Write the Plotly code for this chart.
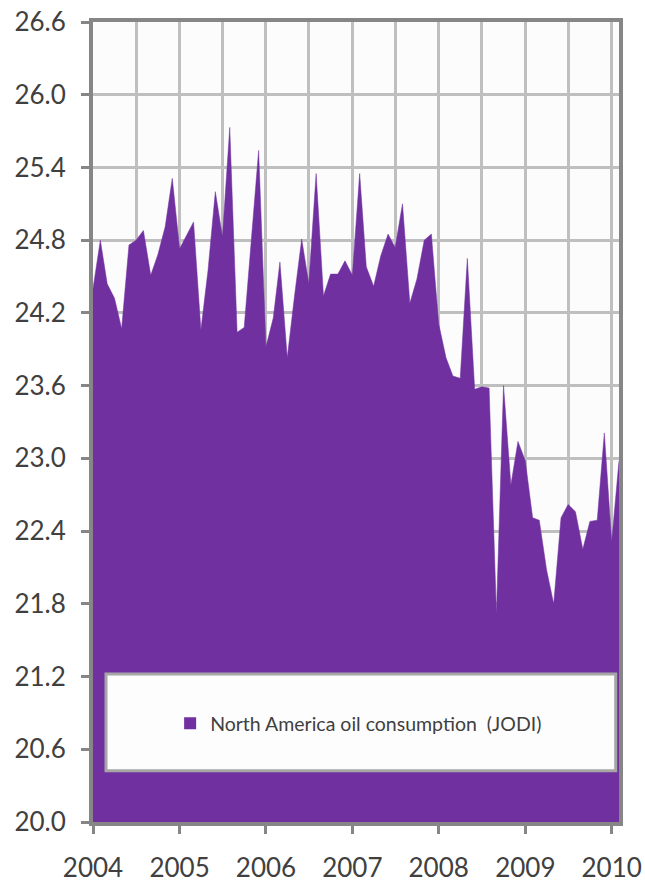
import plotly.graph_objects as go
import pandas as pd

# Monthly North America oil consumption (JODI), mb/d, Jan 2004 - Feb 2010
months = pd.date_range("2004-01-01", "2010-02-01", freq="MS")
consumption = [
    # 2004
    24.40, 24.80, 24.44, 24.32, 24.07, 24.76, 24.80, 24.88, 24.51, 24.68, 24.91, 25.31,
    # 2005
    24.73, 24.84, 24.95, 24.06, 24.55, 25.20, 24.83, 25.73, 24.04, 24.08, 24.80, 25.54,
    # 2006
    23.92, 24.16, 24.62, 23.83, 24.33, 24.81, 24.44, 25.35, 24.34, 24.52, 24.52, 24.63,
    # 2007
    24.51, 25.35, 24.58, 24.42, 24.67, 24.85, 24.74, 25.10, 24.28, 24.48, 24.80, 24.85,
    # 2008
    24.11, 23.83, 23.68, 23.66, 24.65, 23.57, 23.59, 23.58, 21.72, 23.60, 22.78, 23.14,
    # 2009
    22.98, 22.51, 22.49, 22.08, 21.80, 22.51, 22.62, 22.56, 22.25, 22.48, 22.49, 23.21,
    # 2010
    22.31, 22.98,
]
year_ticks = ["2004-01-01", "2005-01-01", "2006-01-01", "2007-01-01",
              "2008-01-01", "2009-01-01", "2010-01-01"]
year_labels = ["2004", "2005", "2006", "2007", "2008", "2009", "2010"]
series_name = "North America oil consumption  (JODI)"

PURPLE = "#7030A0"
TEXT = "#404040"
GRID = "#BFBFBF"
AXIS = "#868686"
FONT = "Lato, Carlito, Open Sans, sans-serif"

fig = go.Figure()
fig.add_trace(go.Scatter(
    x=months, y=consumption, mode="lines", fill="tozeroy",
    fillcolor=PURPLE, line=dict(color=PURPLE, width=0.5),
    showlegend=False, hoverinfo="x+y",
))
# legend entry (square swatch)
fig.add_trace(go.Scatter(
    x=[None], y=[None], mode="markers", name=series_name,
    marker=dict(symbol="square", size=12, color=PURPLE),
))

fig.update_layout(
    width=645, height=882,
    margin=dict(l=93, r=26, t=22, b=60, autoexpand=False),
    paper_bgcolor="white",
    plot_bgcolor="#FCFCFC",
    font=dict(family=FONT, color=TEXT),
    showlegend=True,
    legend=dict(
        x=0.505, y=0.123, xanchor="center", yanchor="middle",
        bgcolor="rgba(0,0,0,0)", borderwidth=0,
        font=dict(family=FONT, size=19.5, color=TEXT),
    ),
    shapes=[dict(
        type="rect", xref="paper", yref="paper",
        x0=0.0247, x1=0.9937, y0=0.064, y1=0.185,
        line=dict(color="#A6A6A6", width=3), fillcolor="#FDFDFD",
        layer="above",
    )],
)

fig.update_xaxes(
    type="date", automargin=False,
    range=["2004-01-01", "2010-02-01"],
    tickvals=year_ticks, ticktext=year_labels,
    showgrid=True, gridcolor=GRID, gridwidth=3,
    minor=dict(dtick="M6", tick0="2004-01-01", showgrid=True,
               gridcolor=GRID, gridwidth=3, ticks=""),
    showline=True, linecolor=AXIS, linewidth=4, mirror=True,
    ticks="outside", ticklen=8, tickwidth=3, tickcolor=AXIS,
    tickfont=dict(family=FONT, size=26, color=TEXT),
    ticklabelstandoff=12,
    zeroline=False,
)
fig.update_yaxes(
    automargin=False,
    range=[20.0, 26.6], dtick=0.6, tick0=20.0, tickformat=".1f",
    showgrid=True, gridcolor=GRID, gridwidth=3,
    showline=True, linecolor=AXIS, linewidth=4, mirror=True,
    ticks="outside", ticklen=8, tickwidth=3, tickcolor=AXIS,
    tickfont=dict(family=FONT, size=26, color=TEXT),
    ticklabelstandoff=10,
    zeroline=False,
)

fig.write_html(
    "out.html",
    config={"displayModeBar": False},
    post_script="document.body.style.margin='0';document.body.style.overflow='hidden';",
)
